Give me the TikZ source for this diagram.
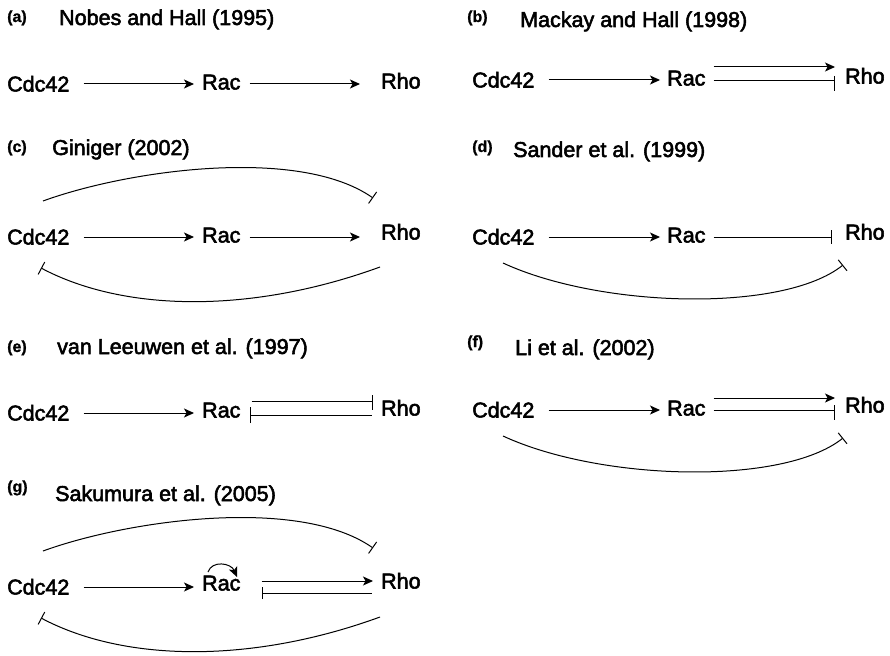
\documentclass[tikz,border=0pt]{standalone}
\usepackage{fontspec}
\setmainfont{Liberation Sans}
\newfontfamily\heavyfont{Liberation Sans}[FakeBold=2.5]
\newfontfamily\lblfont{Liberation Sans Bold}[FakeBold=1]
\usetikzlibrary{arrows.meta,calc}
\begin{document}
\begin{tikzpicture}[x=1pt,y=-1pt,
 gene/.style={font=\heavyfont\fontsize{21.5}{21.5}\selectfont, inner sep=0pt, text height=15pt, text depth=0pt, anchor=west},
 ttl/.style={font=\heavyfont\fontsize{21.5}{21.5}\selectfont, inner sep=0pt, anchor=base west},
 lbl/.style={font=\lblfont\fontsize{16}{16}\selectfont, inner sep=0pt, anchor=base west},
 link/.style={line width=1pt},
 act/.style={link, -{Stealth[length=10pt,width=9pt,inset=2.5pt]}},
 inh/.style={link, -{Bar[width=14pt]}},
]
\useasboundingbox (0,0) rectangle (890,655);

% (a)
\node[lbl] (la) at (7,22) {(a)};
\node[ttl] (ta) at (59,25) {Nobes and Hall (1995)};
\node[gene] (cA) at (7,84) {Cdc42};
\node[gene] (rA) at (202,82) {Rac};
\node[gene] (hA) at (381,81) {Rho};
\draw[act] ($(cA.east)+(14,0)$) -- ($(rA.west |- cA.east)+(-8,0)$);
\draw[act] ($(rA.east |- cA.east)+(9,0)$) -- ($(hA.west |- cA.east)+(-21,0)$);

% (b)
\node[lbl] (lb) at (467,22) {(b)};
\node[ttl] (tb) at (520,27) {Mackay and Hall (1998)};
\node[gene] (cB) at (472,80) {Cdc42};
\node[gene] (rB) at (667,78) {Rac};
\node[gene] (hB) at (845,76) {Rho};
\draw[act] ($(cB.east)+(14,0)$) -- ($(rB.west |- cB.east)+(-7,0)$);
\draw[act] ($(rB.east |- cB.east)+(8,-13)$) -- ($(hB.west |- cB.east)+(-10,-13)$);
\coordinate (bB) at ($(hB.west |- cB.east)+(-11,1)$);
\draw[link] ($(rB.east |- cB.east)+(8,1)$) -- (bB);
\draw[link] ($(bB)+(0,-5)$) -- ($(bB)+(0,10)$);

% (c)
\node[lbl] (lc) at (7,152) {(c)};
\node[ttl] (tc) at (52,155) {Giniger (2002)};
\node[gene] (cC) at (7,237) {Cdc42};
\node[gene] (rC) at (202,235) {Rac};
\node[gene] (hC) at (381,232) {Rho};
\draw[act] ($(cC.east)+(14,0)$) -- ($(rC.west |- cC.east)+(-8,0)$);
\draw[act] ($(rC.east |- cC.east)+(9,0)$) -- ($(hC.west |- cC.east)+(-21,0)$);
\draw[inh] ($(cC.west)+(36,-36)$) .. controls +(85,-31) and +(-74,-52) .. ($(hC.west)+(-8,-34)$);
\draw[inh] ($(hC.west)+(-1,35)$) .. controls +(-126,46) and +(85,45) .. ($(cC.west)+(34,31)$);

% (d)
\node[lbl] (ld) at (472,152) {(d)};
\node[ttl] (td) at (513,157) {Sander et al. (1999)};
\node[gene] (cD) at (472,237) {Cdc42};
\node[gene] (rD) at (667,235) {Rac};
\node[gene] (hD) at (845,232) {Rho};
\draw[act] ($(cD.east)+(14,0)$) -- ($(rD.west |- cD.east)+(-7,0)$);
\draw[inh] ($(rD.east |- cD.east)+(8,0)$) -- ($(hD.west |- cD.east)+(-13,0)$);
\draw[inh] ($(cD.west)+(31,26)$) .. controls +(97,45) and +(-60,48) .. ($(hD.west)+(-2,33)$);

% (e)
\node[lbl] (le) at (7,352) {(e)};
\node[ttl] (te) at (57,354) {van Leeuwen et al. (1997)};
\node[gene] (cE) at (7,413) {Cdc42};
\node[gene] (rE) at (202,410) {Rac};
\node[gene] (hE) at (381,408) {Rho};
\draw[act] ($(cE.east)+(14,0)$) -- ($(rE.west |- cE.east)+(-8,0)$);
\coordinate (eT) at ($(hE.west |- cE.east)+(-9,-12)$);
\draw[link] ($(rE.east |- cE.east)+(11,-12)$) -- (eT);
\draw[link] ($(eT)+(0,-6)$) -- ($(eT)+(0,9)$);
\draw[link, {Bar[width=16pt]}-] ($(rE.east |- cE.east)+(9,2)$) -- ($(hE.west |- cE.east)+(-9,2)$);

% (f)
\node[lbl] (lf) at (467,347) {(f)};
\node[ttl] (tf) at (515,355) {Li et al. (2002)};
\node[gene] (cF) at (472,410) {Cdc42};
\node[gene] (rF) at (667,408) {Rac};
\node[gene] (hF) at (845,405) {Rho};
\draw[act] ($(cF.east)+(14,0)$) -- ($(rF.west |- cF.east)+(-7,0)$);
\draw[act] ($(rF.east |- cF.east)+(8,-12)$) -- ($(hF.west |- cF.east)+(-10,-12)$);
\coordinate (bF) at ($(hF.west |- cF.east)+(-11,0)$);
\draw[link] ($(rF.east |- cF.east)+(8,0)$) -- (bF);
\draw[link] ($(bF)+(0,-5)$) -- ($(bF)+(0,10)$);
\draw[inh] ($(cF.west)+(31,26)$) .. controls +(97,45) and +(-60,48) .. ($(hF.west)+(-2,33)$);

% (g)
\node[lbl] (lg) at (7,492) {(g)};
\node[ttl] (tg) at (55,501) {Sakumura et al. (2005)};
\node[gene] (cG) at (7,587) {Cdc42};
\node[gene] (rG) at (202,583) {Rac};
\node[gene] (hG) at (381,581) {Rho};
\draw[act] ($(cG.east)+(14,0)$) -- ($(rG.west |- cG.east)+(-8,0)$);
\draw[act] ($(rG.east |- cG.east)+(21,-6)$) -- ($(hG.west |- cG.east)+(-8,-6)$);
\draw[link, {Bar[width=12pt]}-] ($(rG.east |- cG.east)+(21,6)$) -- ($(hG.west |- cG.east)+(-9,6)$);
\draw[act] ($(rG.west)+(6,-11)$) .. controls +(4,-12) and +(-6,-14) .. ($(rG.west)+(35,-6)$);
\draw[inh] ($(cG.west)+(36,-36)$) .. controls +(85,-31) and +(-74,-52) .. ($(hG.west)+(-8,-33)$);
\draw[inh] ($(hG.west)+(-1,36)$) .. controls +(-126,46) and +(85,45) .. ($(cG.west)+(34,31)$);
\end{tikzpicture}
\end{document}
